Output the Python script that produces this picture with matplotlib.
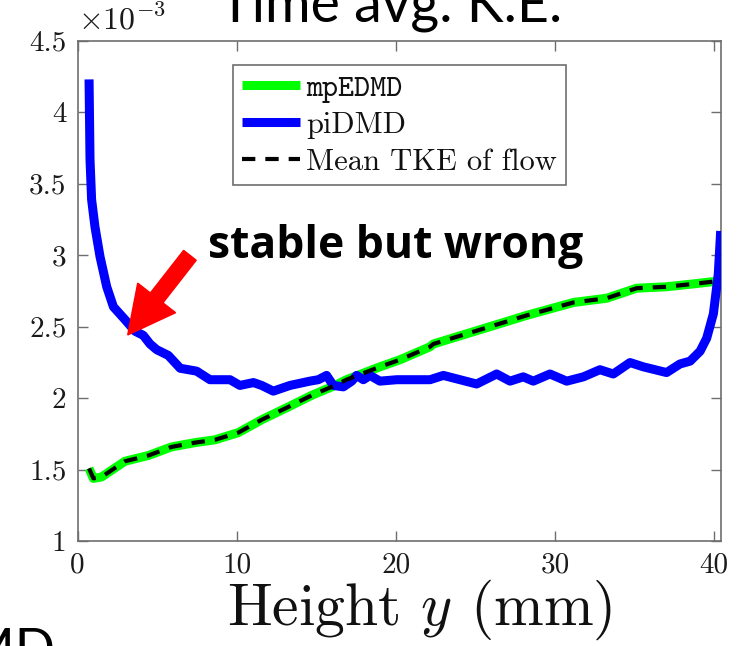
import matplotlib
matplotlib.use("Agg")
import matplotlib.pyplot as plt
from matplotlib.patches import FancyArrow
from matplotlib.transforms import IdentityTransform
import numpy as np

plt.rcParams['mathtext.fontset'] = 'cm'
plt.rcParams['axes.formatter.use_mathtext'] = True

# ---- data (values in units of 1e-3) ----
pidmd_x = [0.72, 0.78, 0.88, 1.09, 1.41, 1.83, 2.25, 2.98, 3.6, 4.13, 4.55, 4.97, 5.7,
           6.45, 7.48, 8.32, 9.58, 10.2, 11.05, 11.57, 12.3, 13.35, 14.6, 15.13, 15.65,
           16.07, 16.7, 17.23, 17.54, 17.96, 18.38, 19.0, 20.06, 21.1, 22.15, 22.99,
           25.08, 26.34, 27.18, 28.01, 28.64, 29.69, 30.74, 31.79, 32.83, 33.67, 34.72,
           35.56, 37.02, 37.86, 38.5, 39.13, 39.54, 39.86, 39.96, 40.27, 40.42]
pidmd_y = [4.23, 3.67, 3.39, 3.20, 2.99, 2.78, 2.64, 2.55, 2.47, 2.44, 2.38, 2.34, 2.30,
           2.21, 2.19, 2.13, 2.13, 2.09, 2.11, 2.09, 2.05, 2.09, 2.12, 2.13, 2.16,
           2.09, 2.08, 2.12, 2.16, 2.13, 2.16, 2.12, 2.13, 2.13, 2.13, 2.16,
           2.10, 2.17, 2.12, 2.15, 2.12, 2.17, 2.12, 2.15, 2.20, 2.17, 2.25,
           2.22, 2.18, 2.24, 2.26, 2.33, 2.42, 2.55, 2.59, 2.87, 3.17]

tke_x = [0.72, 0.99, 1.51, 2.98, 4.45, 5.9, 7.38, 8.64, 10.1, 11.57, 13.25, 14.7, 16.18,
         16.9, 19.0, 20.27, 22.15, 22.36, 25.3, 28.23, 31.16, 33.26, 35.14, 37.0, 38.7, 40.27, 40.42]
tke_y = [1.51, 1.44, 1.45, 1.56, 1.60, 1.66, 1.69, 1.71, 1.76, 1.85, 1.94, 2.02, 2.09,
         2.13, 2.22, 2.27, 2.36, 2.38, 2.48, 2.58, 2.67, 2.70, 2.77, 2.78, 2.80, 2.82, 2.82]
mpedmd_x = tke_x
mpedmd_y = tke_y

xticks = [0, 10, 20, 30, 40]
yticks = [1, 1.5, 2, 2.5, 3, 3.5, 4, 4.5]
ytick_labels = ['1', '1.5', '2', '2.5', '3', '3.5', '4', '4.5']
labels = ['mpEDMD', 'piDMD', 'Mean TKE of flow']

W, H = 751, 646
fig = plt.figure(figsize=(W / 100, H / 100), dpi=100)
L, R, T, B = 77.6, 721.0, 40.8, 541.3
ax = fig.add_axes([L / W, 1 - B / H, (R - L) / W, (B - T) / H])

l1, = ax.plot(mpedmd_x, mpedmd_y, color='#00ff00', lw=6.5, solid_capstyle='butt', zorder=2)
l2, = ax.plot(pidmd_x, pidmd_y, color='#0000ff', lw=6.5, solid_capstyle='butt',
              solid_joinstyle='round', zorder=3)
l3, = ax.plot(tke_x, tke_y, color='black', lw=3.0, dashes=(3.2, 2.4), zorder=4)

ax.set_xlim(0, 40.44)
ax.set_ylim(1, 4.5)
ax.set_xticks(xticks)
ax.set_xticklabels([str(v) for v in xticks])
ax.set_yticks(yticks)
ax.set_yticklabels(ytick_labels)
spine_col = '#6e6e6e'
for s in ax.spines.values():
    s.set_color(spine_col)
    s.set_linewidth(1.2)
ax.tick_params(direction='in', length=7, width=1.0, color=spine_col,
               top=True, right=True, labelsize=21, pad=8, labelcolor='#1a1a1a')
for lab in ax.get_xticklabels() + ax.get_yticklabels():
    lab.set_family('cmr10')

ax.set_xlabel(r'Height $y$ (mm)', fontsize=43, family='cmr10', color='#111111')
ax.xaxis.set_label_coords((420 - L) / (R - L), -(577 - B) / (B - T), transform=ax.transAxes)
ax.xaxis.label.set_va('top')
ax.text(0.0, 1.01, r'$\times10^{-3}$', transform=ax.transAxes, fontsize=23,
        ha='left', va='bottom', color='#1a1a1a')

leg = ax.legend([l1, l2, l3], labels, loc='upper left',
                bbox_to_anchor=((232.7 - L) / (R - L), 1 - (65 - T) / (B - T)),
                fontsize=22, handlelength=1.9, handletextpad=0.2, borderpad=0.3,
                labelspacing=0.3, borderaxespad=0.0, fancybox=False, framealpha=1,
                edgecolor=spine_col)
leg.get_frame().set_linewidth(1.2)
texts = leg.get_texts()
texts[0].set_family('cmtt10')
texts[1].set_family('cmr10')
texts[2].set_family('cmr10')
for t in texts:
    t.set_color('#111111')

# annotation
ax.text((208 - L) / (R - L) * 40.44, 2.981, 'stable but wrong', fontsize=32,
        fontweight='bold', family='Open Sans', ha='left', va='baseline', color='black')

fig.canvas.draw()
tip = ax.transData.transform((3.15, 2.443))
tail = ax.transData.transform((7.06, 3.0))
d = tip - tail
arrow = FancyArrow(tail[0], tail[1], d[0], d[1], width=16, head_width=48,
                   head_length=47, length_includes_head=True, color='#ff0000',
                   transform=IdentityTransform(), zorder=6)
fig.add_artist(arrow)

fig.text(0.52, 1 - 22 / H, 'Time avg. K.E.', fontsize=40, family='Lato',
         ha='center', va='baseline', color='black')
fig.text(55 / W, 1 - 628 / H, 'mpEDMD', fontsize=38, family='Lato',
         ha='right', va='top', color='black')

fig.savefig('out.png', dpi=100)
